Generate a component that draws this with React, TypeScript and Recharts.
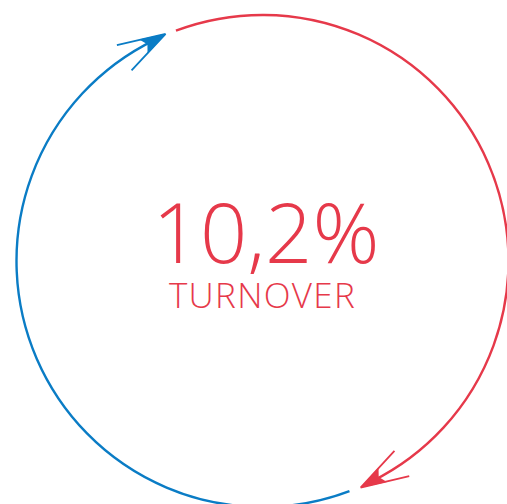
import { PieChart, Pie, Label } from 'recharts'

// circle split into two arrows (clockwise), sweep in degrees
const ARC_NAMES = ['Turnover', 'gap-1', 'Base', 'gap-2']
const ARC_SWEEP = [177.2, 2.7, 177.6, 2.5]
const ARC_COLORS = ['#e6394a', '', '#0a7cc5', '']

const CENTER_VALUE = '10,2%'
const CENTER_LABEL = 'TURNOVER'

const RED = '#e6394a'
const RAD = Math.PI / 180
const CX = 262.5
const CY = 261

const data = ARC_NAMES.map((name, i) => ({
    name,
    value: ARC_SWEEP[i],
    color: ARC_COLORS[i],
}))

const pt = (cx: number, cy: number, r: number, a: number) =>
    [cx + r * Math.cos(a * RAD), cy - r * Math.sin(a * RAD)]

const renderArc = (props: any) => {
    const { cx, cy, innerRadius, outerRadius, startAngle, endAngle } = props
    const color = props.color ?? props.payload?.color
    if (!color) return <g />
    const r = (innerRadius + outerRadius) / 2
    const lineEnd = endAngle + 3
    const [x1, y1] = pt(cx, cy, r, startAngle)
    const [x2, y2] = pt(cx, cy, r, lineEnd)
    const large = startAngle - lineEnd > 180 ? 1 : 0

    // arrow head at the end of the arc
    const [tx, ty] = pt(cx, cy, r + 1, endAngle)
    const phi = (endAngle + 7) * RAD
    const bx = -Math.sin(phi)
    const by = -Math.cos(phi)
    const rot = (len: number, deg: number) => {
        const a = deg * RAD
        return [tx + len * (bx * Math.cos(a) - by * Math.sin(a)), ty + len * (bx * Math.sin(a) + by * Math.cos(a))]
    }
    const [l1x, l1y] = rot(50, 17)
    const [l2x, l2y] = rot(50, -17)
    const [f1x, f1y] = rot(27, 18)
    const [f2x, f2y] = rot(27, -18)
    const nx = tx + 21 * bx
    const ny = ty + 21 * by

    return (
        <g>
            <path
                d={`M${x1},${y1} A${r},${r} 0 ${large} 1 ${x2},${y2}`}
                fill="none"
                stroke={color}
                strokeWidth={2.4}
            />
            <path d={`M${tx},${ty} L${l1x},${l1y} M${tx},${ty} L${l2x},${l2y}`} stroke={color} strokeWidth={1.8} fill="none" />
            <path d={`M${tx},${ty} L${f1x},${f1y} L${nx},${ny} L${f2x},${f2y} Z`} fill={color} />
        </g>
    )
}

const renderCenter = () => (
    <g fontFamily="'Open Sans', sans-serif" fill={RED} fontWeight={300}>
        <text x={CX + 3.5} y={CY + 1.7} textAnchor="middle" fontSize={83}>
            {CENTER_VALUE}
        </text>
        <text x={CX} y={CY + 47.3} textAnchor="middle" fontSize={35} letterSpacing={1.3}>
            {CENTER_LABEL}
        </text>
    </g>
)

export default function App() {
    return (
        <div style={{ position: 'absolute', left: 0, top: 0, width: 507, height: 504, background: '#fff' }}>
            <PieChart width={507} height={504} margin={{ top: 0, right: 0, bottom: 0, left: 0 }}>
                <Pie
                    data={data}
                    dataKey="value"
                    nameKey="name"
                    cx={CX}
                    cy={CY}
                    innerRadius={245}
                    outerRadius={247}
                    startAngle={110.6}
                    endAngle={110.6 - 360}
                    paddingAngle={0}
                    stroke="none"
                    isAnimationActive={false}
                    shape={renderArc}
                    inactiveShape={renderArc}
                >
                    <Label position="center" content={renderCenter} />
                </Pie>
            </PieChart>
        </div>
    )
}
